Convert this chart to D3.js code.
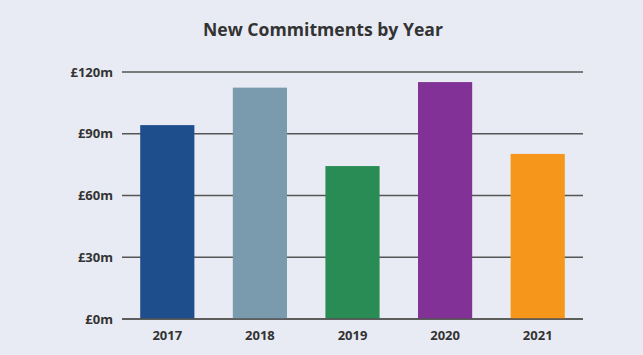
<!DOCTYPE html>
<html><head><meta charset="utf-8">
<script src="https://cdn.jsdelivr.net/npm/d3@7"></script>
<style>
html,body{margin:0;padding:0;background:#e8ebf3;}
svg{display:block;font-family:"Open Sans",sans-serif;}
</style></head><body>
<svg id="c" width="643" height="355"></svg>
<script>
const years = ["2017","2018","2019","2020","2021"];
const values = [94.2, 112.4, 74.3, 115.1, 80.2];
const colors = ["#1f4e8c","#7a9aae","#2a8c55","#823196","#f6961a"];
const yTicks = [0,30,60,90,120];
const yTickLabels = ["£0m","£30m","£60m","£90m","£120m"];
const title = "New Commitments by Year";

const svg = d3.select("#c");
svg.append("rect").attr("width",643).attr("height",355).attr("fill","#e8ebf3");

const x = d3.scaleBand().domain(years).range([121,584]).paddingInner(0.415).paddingOuter(0.2075);
const y = d3.scaleLinear().domain([0,120]).range([319,72]);

svg.append("text").attr("x",323).attr("y",36).attr("text-anchor","middle")
  .attr("font-size",17.6).attr("font-weight",700).attr("fill","#333").text(title);

// gridlines
const grid = svg.append("g");
grid.selectAll("line").data(yTicks).join("line")
  .attr("x1",122).attr("x2",583)
  .attr("y1",d=>y(d)).attr("y2",d=>y(d))
  .attr("stroke","#555").attr("stroke-width",1.5);

// y labels
svg.append("g").selectAll("text").data(yTicks).join("text")
  .attr("x",113).attr("y",d=>y(d)).attr("dy","0.35em")
  .attr("text-anchor","end").attr("font-size",13).attr("font-weight",700).attr("fill","#333")
  .text((d,i)=>yTickLabels[i]);

// bars
svg.append("g").selectAll("rect").data(years).join("rect")
  .attr("x",d=>x(d)).attr("width",x.bandwidth())
  .attr("y",(d,i)=>y(values[i])).attr("height",(d,i)=>y(0)-y(values[i]))
  .attr("fill",(d,i)=>colors[i]);

// baseline on top
svg.append("line").attr("x1",122).attr("x2",583).attr("y1",y(0)).attr("y2",y(0))
  .attr("stroke","#555").attr("stroke-width",1.5);

// x labels
svg.append("g").selectAll("text").data(years).join("text")
  .attr("x",d=>x(d)+x.bandwidth()/2).attr("y",340)
  .attr("text-anchor","middle").attr("font-size",13).attr("font-weight",700).attr("fill","#333")
  .text(d=>d);
</script>
</body></html>
